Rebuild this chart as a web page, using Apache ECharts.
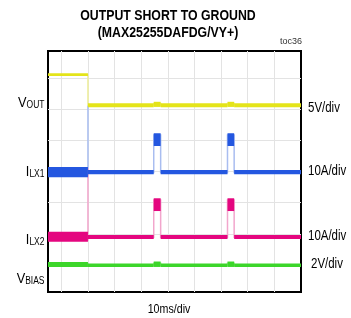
<!DOCTYPE html>
<html><head><meta charset="utf-8">
<script src="https://cdn.jsdelivr.net/npm/echarts@6/dist/echarts.min.js"></script>
<style>html,body{margin:0;padding:0;background:#fff}#c{width:351px;height:318px}</style>
</head><body><div id="c"></div>
<script>
// ---------------- data ----------------
const titleLines = ['OUTPUT SHORT TO GROUND', '(MAX25255DAFDG/VY+)'];
const figId = 'toc36';
const timeDivLabel = '10ms/div';
const timeRange = [-5, 90];                       // ms
const timeGrid = [0, 10, 20, 30, 40, 50, 60, 70, 80];
const divRange = [-0.865, 6.859];                 // screen divisions
const divGrid = [0, 1, 2, 3, 4, 5, 6];

const chMain = ['V', 'I', 'I', 'V'];
const chSub = ['OUT', 'LX1', 'LX2', 'BIAS'];
const chScale = [5, 10, 10, 2];                   // units per division
const chUnit = ['V', 'A', 'A', 'V'];
const chZeroDiv = [5.119, 2.981, 0.897, -2.5];    // channel ground level, in divisions

// trace segments (ms): before short, off, hiccup pulse, off, hiccup pulse, off
const segStart = [-5, 10, 34.7, 37.3, 62.4, 64.9];
const segEnd   = [10, 34.7, 37.3, 62.4, 64.9, 90];
// upper / lower envelope of each segment
const voutHi  = [4.97, 0.15, 0.40, 0.15, 0.40, 0.15];   // V
const voutLo  = [4.86, -0.15, -0.10, -0.15, -0.10, -0.15];
const ilx1Hi  = [1.3, 0.3, 12.1, 0.3, 12.1, 0.3];       // A
const ilx1Lo  = [-1.4, -0.4, 8.65, -0.4, 8.65, -0.4];
const ilx2Hi  = [1.4, 0.3, 12.1, 0.3, 12.1, 0.3];       // A
const ilx2Lo  = [-1.2, -0.3, 8.65, -0.3, 8.65, -0.3];
const vbiasHi = [5.13, 5.03, 5.16, 5.03, 5.16, 5.03];   // V
const vbiasLo = [4.94, 4.94, 4.94, 4.94, 4.94, 4.94];
const shortSpike = [null, 21.2, 22.1, null];            // peak at the short (t = 10 ms)

// ---------------- styling ----------------
const FN = '"Liberation Sans",Arial,sans-serif';
const NARROW = 0.82;
const colors = ['#e4e41a', '#2457e0', '#e4067f', '#3cd62a'];
const edgeColors = ['#eeee9a', '#a9bdf0', '#f2a6cc', '#a8eaa0'];
const gridCol = '#e3e3e3';

const chart = echarts.init(document.getElementById('c'), null, {renderer: 'canvas'});

const his = [voutHi, ilx1Hi, ilx2Hi, vbiasHi];
const los = [voutLo, ilx1Lo, ilx2Lo, vbiasLo];

const yAxes = [{
  type: 'value', min: divRange[0], max: divRange[1], splitNumber: 8,
  axisLine: {show: false}, axisLabel: {show: false},
  axisTick: {show: false, customValues: divGrid},
  splitLine: {show: true, lineStyle: {color: gridCol, width: 1}}
}];
for (let c = 0; c < 4; c++) {
  yAxes.push({
    type: 'value', show: false,
    min: (divRange[0] - chZeroDiv[c]) * chScale[c],
    max: (divRange[1] - chZeroDiv[c]) * chScale[c],
    splitLine: {show: false}
  });
}

const series = [];
for (let c = 0; c < 4; c++) {
  const hi = his[c], lo = los[c];
  const bands = [], edges = [];
  for (let i = 0; i < segStart.length; i++) {
    bands.push([segStart[i], segEnd[i], lo[i], hi[i]]);
    if (i < segStart.length - 1) {
      const a = Math.min(lo[i], lo[i + 1]);
      let b = Math.max(hi[i], hi[i + 1]);
      if (i === 0 && shortSpike[c] != null) b = shortSpike[c];
      edges.push([segEnd[i], a, b]);
    }
  }
  const edgeCol = edgeColors[c], col = colors[c];
  series.push({
    type: 'custom', yAxisIndex: c + 1, data: edges, z: 2, silent: true,
    encode: {x: 0, y: [1, 2]},
    renderItem: function (params, api) {
      const p1 = api.coord([api.value(0), api.value(1)]);
      const p2 = api.coord([api.value(0), api.value(2)]);
      return {type: 'line', shape: {x1: p1[0], y1: p1[1], x2: p2[0], y2: p2[1]},
              style: {stroke: edgeCol, lineWidth: 1.5}};
    }
  });
  series.push({
    type: 'custom', yAxisIndex: c + 1, data: bands, z: 3, silent: true,
    encode: {x: [0, 1], y: [2, 3]},
    renderItem: function (params, api) {
      const p1 = api.coord([api.value(0), api.value(3)]);
      const p2 = api.coord([api.value(1), api.value(2)]);
      return {type: 'rect', shape: {x: p1[0], y: p1[1] - 1, width: p2[0] - p1[0], height: p2[1] - p1[1] + 2},
              style: {fill: col}};
    }
  });
}

const graphics = [
  {type: 'text', x: 168, y: 15.5, scaleX: NARROW, style: {text: titleLines[0], font: 'bold 15px ' + FN, fill: '#000', textAlign: 'center', textVerticalAlign: 'middle'}},
  {type: 'text', x: 168, y: 32.5, scaleX: NARROW, style: {text: titleLines[1], font: 'bold 15px ' + FN, fill: '#000', textAlign: 'center', textVerticalAlign: 'middle'}},
  {type: 'text', x: 302, y: 42, style: {text: figId, font: '9px ' + FN, fill: '#333', textAlign: 'right', textVerticalAlign: 'middle'}},
  {type: 'text', x: 169, y: 309, scaleX: NARROW, style: {text: timeDivLabel, font: '13px ' + FN, fill: '#000', textAlign: 'center', textVerticalAlign: 'middle'}}
];
const leftLabelY = [110.5, 179, 247.2, 286.5];
const rightLabelY = [108, 171, 236, 264];
const rightLabelX = [308, 308, 308, 311];
for (let c = 0; c < 4; c++) {
  graphics.push({type: 'text', x: 44.5, y: leftLabelY[c], scaleX: 0.85, style: {
    text: '{m|' + chMain[c] + '}{s|' + chSub[c] + '}',
    rich: {m: {fontSize: 15, fontFamily: FN, fill: '#000', verticalAlign: 'bottom'},
           s: {fontSize: 10, fontFamily: FN, fill: '#000', verticalAlign: 'bottom'}},
    textAlign: 'right', textVerticalAlign: 'bottom'}});
  graphics.push({type: 'text', x: rightLabelX[c], y: rightLabelY[c], scaleX: NARROW, style: {
    text: chScale[c] + chUnit[c] + '/div', font: '14px ' + FN, fill: '#000',
    textAlign: 'left', textVerticalAlign: 'middle'}});
}

chart.setOption({
  animation: false,
  backgroundColor: '#fff',
  grid: {left: 48, right: 50, top: 51, bottom: 26, show: true, borderColor: '#000', borderWidth: 2, backgroundColor: 'transparent', containLabel: false},
  xAxis: {
    type: 'value', min: timeRange[0], max: timeRange[1], splitNumber: 10,
    axisLine: {show: false}, axisLabel: {show: false},
    axisTick: {show: false, customValues: timeGrid},
    splitLine: {show: true, lineStyle: {color: gridCol, width: 1}}
  },
  yAxis: yAxes,
  series: series,
  graphic: graphics
});
</script>
</body></html>
